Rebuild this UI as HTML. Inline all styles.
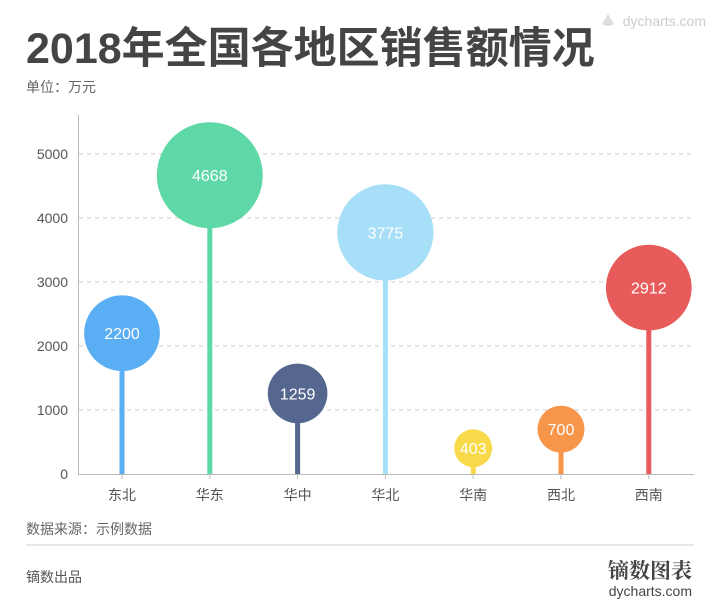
<!DOCTYPE html>
<html><head><meta charset="utf-8">
<style>
body{margin:0;background:#fff;font-family:"Liberation Sans","Noto Sans CJK SC",sans-serif;}
#wrap{position:relative;width:720px;height:610px;overflow:hidden;}
</style></head>
<body>
<div id="wrap">
<svg id="svg" width="720" height="610" xmlns="http://www.w3.org/2000/svg">
<text x="26" y="63" font-size="43" font-weight="bold" fill="#444" font-family="Liberation Sans,Noto Sans CJK SC,sans-serif">2018年全国各地区销售额情况</text>
<text x="26" y="92" font-size="14" fill="#666" font-family="Liberation Sans,Noto Sans CJK SC,sans-serif">单位：万元</text>
<text x="706" y="26" font-size="14" fill="#ccc" text-anchor="end" font-family="Liberation Sans,sans-serif">dycharts.com</text>
<path d="M602 24 l6 -10 l6 10 q-6 4 -12 0z" fill="#ddd"/>
<g id="grid"></g>
<g id="marks"></g>
<text x="26" y="534" font-size="14" fill="#666" font-family="Liberation Sans,Noto Sans CJK SC,sans-serif">数据来源：示例数据</text>
<line x1="26" y1="545" x2="694" y2="545" stroke="#ccc" stroke-width="1"/>
<text x="26" y="582" font-size="14" fill="#555" font-family="Liberation Sans,Noto Sans CJK SC,sans-serif">镝数出品</text>
<text x="692" y="578" font-size="21" font-weight="bold" fill="#444" text-anchor="end" font-family="Noto Serif CJK SC,serif">镝数图表</text>
<text x="692" y="596" font-size="14" fill="#444" text-anchor="end" font-family="Liberation Sans,sans-serif">dycharts.com</text>
</svg>
</div>
<script>
const categories=["东北","华东","华中","华北","华南","西北","西南"];
const values=[2200,4668,1259,3775,403,700,2912];
const colors=["#5aaef3","#5fd8a8","#56678f","#a8dff8","#f7d94a","#f7964a","#e85b5b"];
const yTicks=[0,1000,2000,3000,4000,5000];
const NS="http://www.w3.org/2000/svg";
function y(v){return 474-v*0.064;}
function x(i){return 122+i*87.8;}
function r(v){return 4.8+0.705*Math.sqrt(v);}
function mk(t,a,p){const e=document.createElementNS(NS,t);for(const k in a)e.setAttribute(k,a[k]);p.appendChild(e);return e;}
const grid=document.getElementById('grid'),marks=document.getElementById('marks');
yTicks.forEach(t=>{
  if(t>0){const l=mk('line',{x1:79,x2:694,y1:y(t),y2:y(t),stroke:'#ccc','stroke-dasharray':'4,4'},grid);
  
  }
  const tx=mk('text',{x:68,y:y(t)+5,'font-size':14,fill:'#555','text-anchor':'end'},grid);tx.textContent=t;
  
  
});
const ya=mk('line',{x1:78.5,x2:78.5,y1:115,y2:474,stroke:'#bbb'},grid);


const xa=mk('line',{x1:78,x2:694,y1:474.5,y2:474.5,stroke:'#bbb'},grid);


categories.forEach((c,i)=>{
  const v=values[i];
  const s=mk('rect',{x:x(i)-2.5,y:y(v),width:5,height:474-y(v),fill:colors[i]},marks);
  
  
  const b=mk('circle',{cx:x(i),cy:y(v),r:r(v),fill:colors[i]},marks);
  
  
  const t=mk('text',{x:x(i),y:y(v)+6,'font-size':16,fill:'#fff','text-anchor':'middle'},marks);t.textContent=v;
  
  
  const tk=mk('line',{x1:x(i),x2:x(i),y1:474,y2:479,stroke:'#bbb'},marks);
  
  
  const cl=mk('text',{x:x(i),y:500,'font-size':14,fill:'#555','text-anchor':'middle'},marks);cl.textContent=c;
  
  
});
</script>
</body></html>
